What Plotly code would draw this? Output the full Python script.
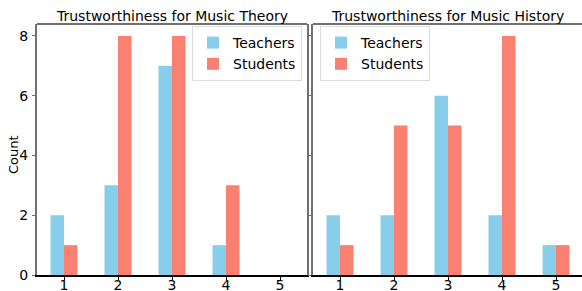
import plotly.graph_objects as go

ratings = [1, 2, 3, 4, 5]
theory_teachers = [2, 3, 7, 1, 0]
theory_students = [1, 8, 8, 3, 0]
history_teachers = [2, 2, 6, 2, 1]
history_students = [1, 5, 5, 8, 1]
titles = ["Trustworthiness for Music Theory", "Trustworthiness for Music History"]

TEACH = "#87CEEB"
STUD = "#FA8072"
FONT = "DejaVu Sans"
FS = 14

fig = go.Figure()

panels = [(theory_teachers, theory_students, "x", "y", "legend"),
          (history_teachers, history_students, "x2", "y2", "legend2")]
for t, s, xa, ya, lg in panels:
    fig.add_trace(go.Bar(x=ratings, y=t, name="Teachers", marker_color=TEACH,
                         marker_line_width=0, xaxis=xa, yaxis=ya, legend=lg,
                         offset=-0.25, width=0.25))
    fig.add_trace(go.Bar(x=ratings, y=s, name="Students", marker_color=STUD,
                         marker_line_width=0, xaxis=xa, yaxis=ya, legend=lg,
                         offset=0.0, width=0.25))

W, H = 582, 291
x1 = [37 / W, 307 / W]
x2 = [313 / W, 1.0]
yd = [1 - 275 / H, 1 - 24 / H]

xcommon = dict(showgrid=False, zeroline=False, tickvals=ratings, automargin=False,
               showline=True, linecolor="black", linewidth=1.5,
               ticks="outside", ticklen=3, tickcolor="black", ticklabelstandoff=-7,
               tickfont=dict(family=FONT, size=FS, color="black"))
ycommon = dict(range=[0, 8.4], tickvals=[0, 2, 4, 6, 8], showgrid=False, zeroline=False,
               automargin=False,
               showline=True, linecolor="#707070", linewidth=2, mirror=True,
               ticks="outside", ticklen=3, tickcolor="#707070", ticklabelstandoff=1,
               tickfont=dict(family=FONT, size=FS, color="black"))

fig.update_layout(
    width=W, height=H,
    margin=dict(l=0, r=0, t=0, b=0, autoexpand=False),
    plot_bgcolor="white", paper_bgcolor="white",
    barmode="overlay",
    xaxis=dict(domain=x1, anchor="y", range=[0.5, 5.5], **xcommon),
    yaxis=dict(domain=yd, anchor="x", **ycommon),
    xaxis2=dict(domain=x2, anchor="y2", range=[0.5, 5.5 - 1 / 54], **xcommon),
    yaxis2=dict(domain=yd, anchor="x2", **{**ycommon, "showticklabels": False}),
    legend=dict(x=302 / W, y=1 - 26 / H, xanchor="right", yanchor="top",
                bgcolor="white", bordercolor="#dddddd", borderwidth=1,
                font=dict(family=FONT, size=FS, color="black"), itemwidth=30,
                tracegroupgap=0),
    legend2=dict(x=320 / W, y=1 - 26 / H, xanchor="left", yanchor="top",
                 bgcolor="white", bordercolor="#dddddd", borderwidth=1,
                 font=dict(family=FONT, size=FS, color="black"), itemwidth=30,
                 tracegroupgap=0),
    showlegend=True,
)

# top spines
for xr in (x1, x2):
    fig.add_shape(type="line", xref="paper", yref="paper", x0=xr[0], x1=xr[1],
                  y0=yd[1], y1=yd[1], line=dict(color="#707070", width=2))

for xr, t in zip((x1, [313 / W, 583 / W]), titles):
    fig.add_annotation(text=t, xref="paper", yref="paper", x=(xr[0] + xr[1]) / 2,
                       y=yd[1], yanchor="bottom", xanchor="center", showarrow=False,
                       yshift=-2, font=dict(family=FONT, size=FS, color="black"))

fig.add_annotation(text="Count", xref="paper", yref="paper", x=13 / W, y=1 - 155 / H,
                   xanchor="center", yanchor="middle", textangle=-90, showarrow=False,
                   font=dict(family=FONT, size=13, color="black"))

fig.write_html("out.html", config={"displayModeBar": False},
               post_script="document.body.style.margin='0px';document.body.style.padding='0px';")
